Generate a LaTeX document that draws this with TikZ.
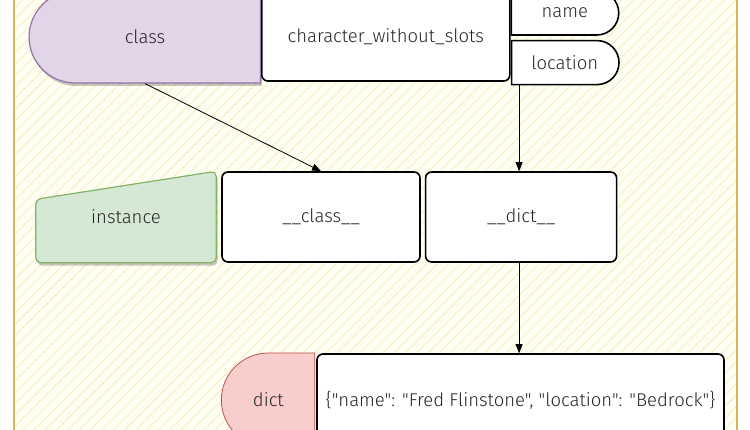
\documentclass[tikz,border=0pt]{standalone}
\usepackage{fontspec}
\IfFontExistsTF{Fira Sans Light}
  {\setmainfont{Fira Sans Light}[Ligatures=TeXOff]}
  {\setmainfont{Fira Sans}[Ligatures=TeXOff]}
\usetikzlibrary{positioning, arrows.meta, shapes.misc, shadows, patterns.meta}
\definecolor{classfill}{HTML}{E1D5E7}
\definecolor{classline}{HTML}{9673A6}
\definecolor{instfill}{HTML}{D5E8D4}
\definecolor{instline}{HTML}{82B366}
\definecolor{dictfill}{HTML}{F8CECC}
\definecolor{dictline}{HTML}{B85450}
\definecolor{bgcream}{HTML}{FFFEF2}
\definecolor{hatch}{HTML}{F7EDC0}
\definecolor{frameline}{HTML}{D6B656}
\tikzset{every node/.style={ % Text of every label
font=\fontsize{18.5}{22}\selectfont, text=black!85},
box/.style={ % White boxes with rounded corners
draw, line width=1.6pt, fill=white, rounded corners=6pt, inner sep=0pt},
shadowed/.style={drop shadow={shadow xshift=1.5pt, shadow yshift=-3pt, fill=black, opacity=0.22}},
classtag/.style={rounded rectangle, rounded rectangle right arc=none,
draw=classline, fill=classfill, line width=1.2pt, shadowed,
minimum width=238pt, minimum height=92pt},
slot/.style={rounded rectangle, rounded rectangle left arc=none,
draw, line width=1.6pt, fill=white, minimum width=114pt, minimum height=44pt},
instshape/.style={draw=instline, fill=instfill, line width=1.2pt, rounded corners=5pt, shadowed},
dicttag/.style={rounded rectangle, rounded rectangle right arc=none,
draw=dictline, fill=dictfill, line width=0.8pt, minimum width=68pt, minimum height=94pt},
arrow/.style={->, >={Triangle[length=9pt,width=7pt]}, line width=0.8pt}}

\begin{document}
\begin{tikzpicture}[x=1pt, y=-1pt]
    \useasboundingbox (0,0) rectangle (750,430);
    % background
    \path[fill=bgcream, postaction={pattern={Lines[angle=45,distance=8pt,line width=0.8pt]}, pattern color=hatch}] (14,-10) rectangle (737,440);
    \draw[frameline, line width=2.5pt] (14,-10) -- (14,440) (737,-10) -- (737,440);

    \node[classtag] (cls) at (145,37) {class};
    \node[box, minimum width=248pt, minimum height=88pt, right=0pt of cls] (chars) {character\_without\_slots};
    \node[slot, anchor=north west] (name) at ([yshift=2pt]chars.north east) {name};
    \node[slot, below=4pt of name] (loc) {location};

    \node[box, minimum width=198pt, minimum height=90pt] (clsattr) at (321,217) {\_\_class\_\_};
    \node[box, minimum width=191pt, minimum height=90pt, right=4pt of clsattr] (dictattr) {\_\_dict\_\_};
    \node[minimum width=180pt, minimum height=91pt, left=5pt of clsattr] (inst) {};
    \draw[instshape] ([yshift=-28pt]inst.north west) -- (inst.north east) -- (inst.south east) -- (inst.south west) -- cycle;
    \node at (inst.center) {instance};

    \node[box, minimum width=407pt, minimum height=92pt] (value) at (520.5,400) {\{"name": "Fred Flinstone", "location": "Bedrock"\}};
    \node[dicttag, left=1pt of value] (dicttag) {dict};

    \draw[arrow] (cls.south) -- (clsattr.north);
    \draw[arrow] ([xshift=-2pt]loc.south -| dictattr.north) -- ([xshift=-2pt]dictattr.north);
    \draw[arrow] ([xshift=-2pt]dictattr.south) -- ([xshift=-2pt]dictattr.south |- value.north);
\end{tikzpicture}
\end{document}
